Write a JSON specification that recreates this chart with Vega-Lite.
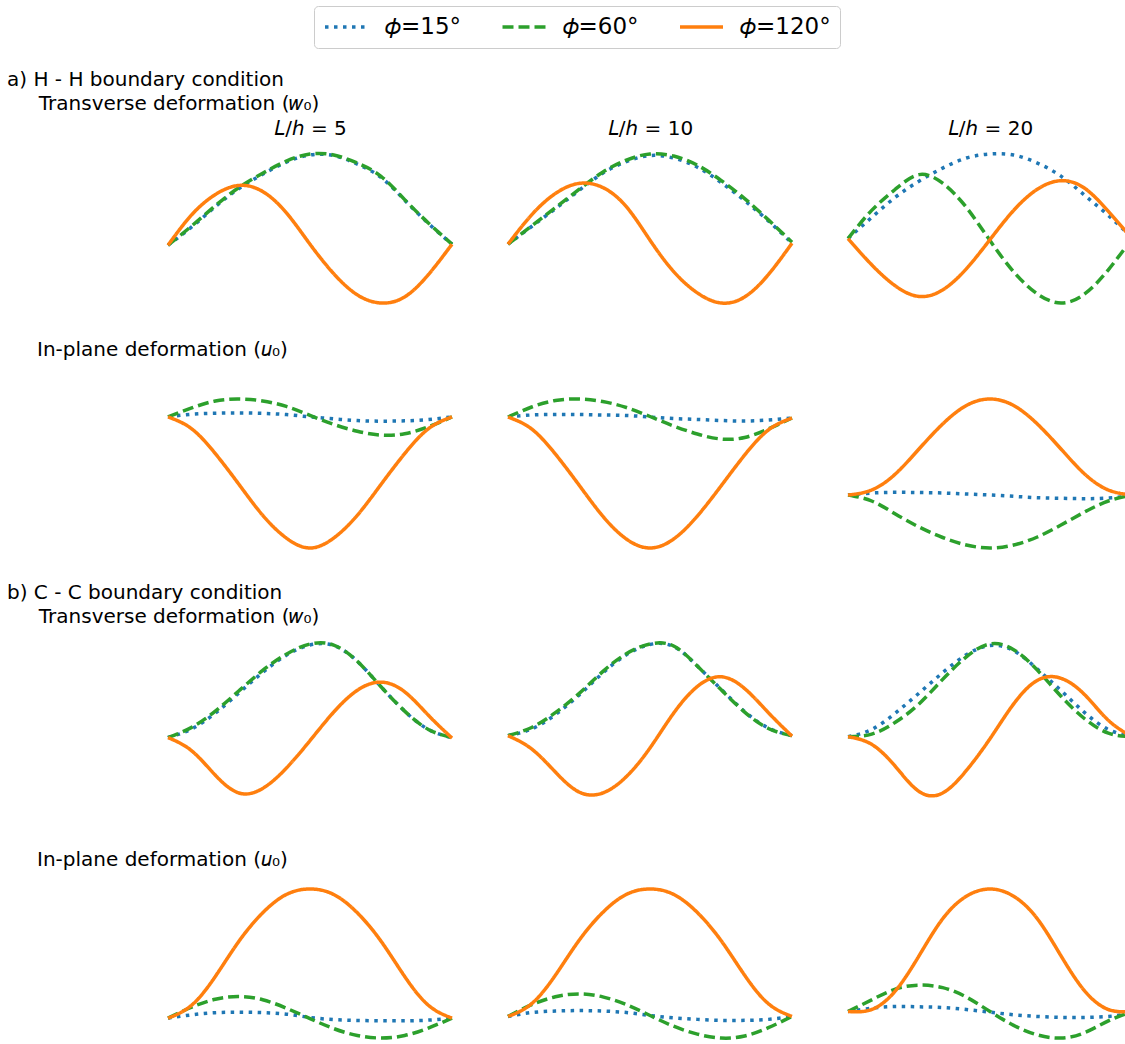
{
  "$schema": "https://vega.github.io/schema/vega-lite/v6.json",
  "padding": {"left": 7, "top": 5, "right": 0, "bottom": 0},
  "background": "white",
  "config": {
    "font": "DejaVu Sans",
    "view": {"stroke": null},
    "line": {"strokeWidth": 3.5, "interpolate": "natural", "strokeCap": "butt"},
    "title": {"fontSize": 20, "fontWeight": "normal", "color": "black", "anchor": "start", "frame": "group", "font": "DejaVu Sans"},
    "axis": {"labels": false, "ticks": false, "domain": false, "grid": false, "titleFontSize": 20, "titleFontWeight": "normal", "titleColor": "black", "titlePadding": 16, "titleFont": "DejaVu Sans"},
    "legend": {"orient": "none", "legendX": 146, "legendY": -148, "direction": "horizontal", "padding": 9, "clipHeight": 24, "strokeColor": "#cccccc", "fillColor": "white", "cornerRadius": 4, "labelFont": "DejaVu Sans", "labelFontSize": 23, "labelColor": "black", "labelOffset": 15, "columnPadding": 38.5, "symbolType": "stroke", "symbolSize": 1849, "symbolStrokeWidth": 3.5}
  },
  "datasets": {
    "hh_w_5": [
      {"phi":15,"x":0,"v":0},{"phi":15,"x":0.0833,"v":18},{"phi":15,"x":0.1667,"v":38},{"phi":15,"x":0.25,"v":56},{"phi":15,"x":0.3333,"v":70},{"phi":15,"x":0.4167,"v":82},{"phi":15,"x":0.5,"v":89},{"phi":15,"x":0.5833,"v":88.5},{"phi":15,"x":0.6667,"v":80},{"phi":15,"x":0.75,"v":67},{"phi":15,"x":0.8333,"v":44.5},{"phi":15,"x":0.9167,"v":21.5},{"phi":15,"x":1,"v":1},
      {"phi":60,"x":0,"v":0},{"phi":60,"x":0.0833,"v":19},{"phi":60,"x":0.1667,"v":39},{"phi":60,"x":0.25,"v":57},{"phi":60,"x":0.3333,"v":71},{"phi":60,"x":0.4167,"v":83},{"phi":60,"x":0.5,"v":90},{"phi":60,"x":0.5833,"v":89},{"phi":60,"x":0.6667,"v":81},{"phi":60,"x":0.75,"v":68},{"phi":60,"x":0.8333,"v":45},{"phi":60,"x":0.9167,"v":22},{"phi":60,"x":1,"v":1},
      {"phi":120,"x":0,"v":0},{"phi":120,"x":0.0833,"v":30},{"phi":120,"x":0.1667,"v":50},{"phi":120,"x":0.25,"v":59},{"phi":120,"x":0.3333,"v":53},{"phi":120,"x":0.4167,"v":32},{"phi":120,"x":0.5,"v":1},{"phi":120,"x":0.5833,"v":-28},{"phi":120,"x":0.6667,"v":-49},{"phi":120,"x":0.75,"v":-57},{"phi":120,"x":0.8333,"v":-51},{"phi":120,"x":0.9167,"v":-29},{"phi":120,"x":1,"v":1}
    ],
    "hh_w_10": [
      {"phi":15,"x":0,"v":0},{"phi":15,"x":0.0833,"v":17.5},{"phi":15,"x":0.1667,"v":35},{"phi":15,"x":0.25,"v":53},{"phi":15,"x":0.3333,"v":70},{"phi":15,"x":0.4167,"v":81.5},{"phi":15,"x":0.5,"v":87.5},{"phi":15,"x":0.5833,"v":85},{"phi":15,"x":0.6667,"v":76},{"phi":15,"x":0.75,"v":61},{"phi":15,"x":0.8333,"v":43},{"phi":15,"x":0.9167,"v":23},{"phi":15,"x":1,"v":1},
      {"phi":60,"x":0,"v":0},{"phi":60,"x":0.0833,"v":18},{"phi":60,"x":0.1667,"v":36},{"phi":60,"x":0.25,"v":54},{"phi":60,"x":0.3333,"v":71},{"phi":60,"x":0.4167,"v":83},{"phi":60,"x":0.5,"v":89},{"phi":60,"x":0.5833,"v":87},{"phi":60,"x":0.6667,"v":78},{"phi":60,"x":0.75,"v":63},{"phi":60,"x":0.8333,"v":45},{"phi":60,"x":0.9167,"v":24},{"phi":60,"x":1,"v":2},
      {"phi":120,"x":0,"v":0},{"phi":120,"x":0.0833,"v":29},{"phi":120,"x":0.1667,"v":50},{"phi":120,"x":0.25,"v":60},{"phi":120,"x":0.3333,"v":56},{"phi":120,"x":0.4167,"v":37},{"phi":120,"x":0.5,"v":4},{"phi":120,"x":0.5833,"v":-27},{"phi":120,"x":0.6667,"v":-48},{"phi":120,"x":0.75,"v":-58},{"phi":120,"x":0.8333,"v":-52},{"phi":120,"x":0.9167,"v":-30},{"phi":120,"x":1,"v":1}
    ],
    "hh_w_20": [
      {"phi":15,"x":0,"v":0},{"phi":15,"x":0.0833,"v":21},{"phi":15,"x":0.1667,"v":41},{"phi":15,"x":0.25,"v":57},{"phi":15,"x":0.3333,"v":70},{"phi":15,"x":0.4167,"v":80},{"phi":15,"x":0.5,"v":84},{"phi":15,"x":0.5833,"v":83},{"phi":15,"x":0.6667,"v":75},{"phi":15,"x":0.75,"v":62},{"phi":15,"x":0.8333,"v":43},{"phi":15,"x":0.9167,"v":23},{"phi":15,"x":1,"v":1},
      {"phi":60,"x":0,"v":0},{"phi":60,"x":0.0833,"v":28},{"phi":60,"x":0.1667,"v":49},{"phi":60,"x":0.25,"v":63.5},{"phi":60,"x":0.3333,"v":55},{"phi":60,"x":0.4167,"v":31},{"phi":60,"x":0.5,"v":-2},{"phi":60,"x":0.5833,"v":-33},{"phi":60,"x":0.6667,"v":-55},{"phi":60,"x":0.75,"v":-64},{"phi":60,"x":0.8333,"v":-55},{"phi":60,"x":0.9167,"v":-31},{"phi":60,"x":1,"v":0},
      {"phi":120,"x":0,"v":0},{"phi":120,"x":0.0833,"v":-26},{"phi":120,"x":0.1667,"v":-47},{"phi":120,"x":0.25,"v":-57.5},{"phi":120,"x":0.3333,"v":-51},{"phi":120,"x":0.4167,"v":-30},{"phi":120,"x":0.5,"v":-1},{"phi":120,"x":0.5833,"v":28},{"phi":120,"x":0.6667,"v":49},{"phi":120,"x":0.75,"v":57.5},{"phi":120,"x":0.8333,"v":50},{"phi":120,"x":0.9167,"v":27},{"phi":120,"x":1,"v":0}
    ],
    "hh_u_5": [
      {"phi":15,"x":0,"v":0},{"phi":15,"x":0.0833,"v":2.7},{"phi":15,"x":0.1667,"v":3.7},{"phi":15,"x":0.25,"v":4},{"phi":15,"x":0.3333,"v":3.5},{"phi":15,"x":0.4167,"v":2.3},{"phi":15,"x":0.5,"v":0},{"phi":15,"x":0.5833,"v":-2},{"phi":15,"x":0.6667,"v":-3.7},{"phi":15,"x":0.75,"v":-4.3},{"phi":15,"x":0.8333,"v":-4},{"phi":15,"x":0.9167,"v":-2.7},{"phi":15,"x":1,"v":0},
      {"phi":60,"x":0,"v":0},{"phi":60,"x":0.0833,"v":9},{"phi":60,"x":0.1667,"v":16},{"phi":60,"x":0.25,"v":18},{"phi":60,"x":0.3333,"v":16},{"phi":60,"x":0.4167,"v":10.5},{"phi":60,"x":0.5,"v":1.5},{"phi":60,"x":0.5833,"v":-7.5},{"phi":60,"x":0.6667,"v":-14.5},{"phi":60,"x":0.75,"v":-18.3},{"phi":60,"x":0.8333,"v":-17},{"phi":60,"x":0.9167,"v":-10},{"phi":60,"x":1,"v":0},
      {"phi":120,"x":0,"v":0},{"phi":120,"x":0.0833,"v":-12},{"phi":120,"x":0.1667,"v":-37},{"phi":120,"x":0.25,"v":-68},{"phi":120,"x":0.3333,"v":-99},{"phi":120,"x":0.4167,"v":-122},{"phi":120,"x":0.5,"v":-132},{"phi":120,"x":0.5833,"v":-122},{"phi":120,"x":0.6667,"v":-99},{"phi":120,"x":0.75,"v":-68},{"phi":120,"x":0.8333,"v":-37},{"phi":120,"x":0.9167,"v":-12},{"phi":120,"x":1,"v":0}
    ],
    "hh_u_10": [
      {"phi":15,"x":0,"v":0},{"phi":15,"x":0.0833,"v":2},{"phi":15,"x":0.1667,"v":2.5},{"phi":15,"x":0.25,"v":2.5},{"phi":15,"x":0.3333,"v":2},{"phi":15,"x":0.4167,"v":1.5},{"phi":15,"x":0.5,"v":0},{"phi":15,"x":0.5833,"v":-1.5},{"phi":15,"x":0.6667,"v":-2.5},{"phi":15,"x":0.75,"v":-3.5},{"phi":15,"x":0.8333,"v":-4},{"phi":15,"x":0.9167,"v":-3},{"phi":15,"x":1,"v":-1},
      {"phi":60,"x":0,"v":0},{"phi":60,"x":0.0833,"v":10},{"phi":60,"x":0.1667,"v":16.5},{"phi":60,"x":0.25,"v":18},{"phi":60,"x":0.3333,"v":15.5},{"phi":60,"x":0.4167,"v":9.5},{"phi":60,"x":0.5,"v":0.5},{"phi":60,"x":0.5833,"v":-9},{"phi":60,"x":0.6667,"v":-17},{"phi":60,"x":0.75,"v":-22},{"phi":60,"x":0.8333,"v":-20.5},{"phi":60,"x":0.9167,"v":-12},{"phi":60,"x":1,"v":-1},
      {"phi":120,"x":0,"v":0},{"phi":120,"x":0.0833,"v":-12},{"phi":120,"x":0.1667,"v":-37},{"phi":120,"x":0.25,"v":-68},{"phi":120,"x":0.3333,"v":-99},{"phi":120,"x":0.4167,"v":-122},{"phi":120,"x":0.5,"v":-131},{"phi":120,"x":0.5833,"v":-122},{"phi":120,"x":0.6667,"v":-99},{"phi":120,"x":0.75,"v":-69},{"phi":120,"x":0.8333,"v":-38},{"phi":120,"x":0.9167,"v":-13},{"phi":120,"x":1,"v":-1}
    ],
    "hh_u_20": [
      {"phi":15,"x":0,"v":0},{"phi":15,"x":0.0833,"v":2},{"phi":15,"x":0.1667,"v":2.7},{"phi":15,"x":0.25,"v":2.5},{"phi":15,"x":0.3333,"v":2},{"phi":15,"x":0.4167,"v":1},{"phi":15,"x":0.5,"v":0},{"phi":15,"x":0.5833,"v":-1.3},{"phi":15,"x":0.6667,"v":-2.7},{"phi":15,"x":0.75,"v":-3.3},{"phi":15,"x":0.8333,"v":-3.7},{"phi":15,"x":0.9167,"v":-3},{"phi":15,"x":1,"v":-1},
      {"phi":60,"x":0,"v":0},{"phi":60,"x":0.0833,"v":-6},{"phi":60,"x":0.1667,"v":-19},{"phi":60,"x":0.25,"v":-32},{"phi":60,"x":0.3333,"v":-42.5},{"phi":60,"x":0.4167,"v":-50},{"phi":60,"x":0.5,"v":-53},{"phi":60,"x":0.5833,"v":-50},{"phi":60,"x":0.6667,"v":-42},{"phi":60,"x":0.75,"v":-30},{"phi":60,"x":0.8333,"v":-17},{"phi":60,"x":0.9167,"v":-6},{"phi":60,"x":1,"v":0},
      {"phi":120,"x":0,"v":0},{"phi":120,"x":0.0833,"v":5},{"phi":120,"x":0.1667,"v":21},{"phi":120,"x":0.25,"v":46},{"phi":120,"x":0.3333,"v":71},{"phi":120,"x":0.4167,"v":89.5},{"phi":120,"x":0.5,"v":96},{"phi":120,"x":0.5833,"v":89.5},{"phi":120,"x":0.6667,"v":71},{"phi":120,"x":0.75,"v":46},{"phi":120,"x":0.8333,"v":21},{"phi":120,"x":0.9167,"v":5},{"phi":120,"x":1,"v":0}
    ],
    "cc_w_5": [
      {"phi":15,"x":0,"v":0},{"phi":15,"x":0.0833,"v":8.5},{"phi":15,"x":0.1667,"v":24},{"phi":15,"x":0.25,"v":44},{"phi":15,"x":0.3333,"v":64},{"phi":15,"x":0.4167,"v":81},{"phi":15,"x":0.5,"v":91},{"phi":15,"x":0.5833,"v":90.5},{"phi":15,"x":0.6667,"v":75},{"phi":15,"x":0.75,"v":50},{"phi":15,"x":0.8333,"v":26},{"phi":15,"x":0.9167,"v":8},{"phi":15,"x":1,"v":0},
      {"phi":60,"x":0,"v":0},{"phi":60,"x":0.0833,"v":10},{"phi":60,"x":0.1667,"v":26},{"phi":60,"x":0.25,"v":46},{"phi":60,"x":0.3333,"v":66},{"phi":60,"x":0.4167,"v":82},{"phi":60,"x":0.5,"v":92},{"phi":60,"x":0.5833,"v":91},{"phi":60,"x":0.6667,"v":75},{"phi":60,"x":0.75,"v":50},{"phi":60,"x":0.8333,"v":26},{"phi":60,"x":0.9167,"v":8},{"phi":60,"x":1,"v":0},
      {"phi":120,"x":0,"v":0},{"phi":120,"x":0.0833,"v":-13},{"phi":120,"x":0.1667,"v":-37},{"phi":120,"x":0.25,"v":-54.5},{"phi":120,"x":0.3333,"v":-50},{"phi":120,"x":0.4167,"v":-30},{"phi":120,"x":0.5,"v":-3},{"phi":120,"x":0.5833,"v":25},{"phi":120,"x":0.6667,"v":46.5},{"phi":120,"x":0.75,"v":54.5},{"phi":120,"x":0.8333,"v":45},{"phi":120,"x":0.9167,"v":22},{"phi":120,"x":1,"v":-0.5}
    ],
    "cc_w_10": [
      {"phi":15,"x":0,"v":0},{"phi":15,"x":0.0833,"v":6.5},{"phi":15,"x":0.1667,"v":20.5},{"phi":15,"x":0.25,"v":39.5},{"phi":15,"x":0.3333,"v":61},{"phi":15,"x":0.4167,"v":79},{"phi":15,"x":0.5,"v":89},{"phi":15,"x":0.5833,"v":87},{"phi":15,"x":0.6667,"v":68},{"phi":15,"x":0.75,"v":45.5},{"phi":15,"x":0.8333,"v":23.5},{"phi":15,"x":0.9167,"v":7.5},{"phi":15,"x":1,"v":0},
      {"phi":60,"x":0,"v":0},{"phi":60,"x":0.0833,"v":8},{"phi":60,"x":0.1667,"v":22.5},{"phi":60,"x":0.25,"v":41},{"phi":60,"x":0.3333,"v":62.5},{"phi":60,"x":0.4167,"v":80},{"phi":60,"x":0.5,"v":89.5},{"phi":60,"x":0.5833,"v":87.5},{"phi":60,"x":0.6667,"v":68},{"phi":60,"x":0.75,"v":45},{"phi":60,"x":0.8333,"v":23},{"phi":60,"x":0.9167,"v":7},{"phi":60,"x":1,"v":0},
      {"phi":120,"x":0,"v":0},{"phi":120,"x":0.0833,"v":-13},{"phi":120,"x":0.1667,"v":-35.5},{"phi":120,"x":0.25,"v":-55},{"phi":120,"x":0.3333,"v":-56},{"phi":120,"x":0.4167,"v":-40},{"phi":120,"x":0.5,"v":-12},{"phi":120,"x":0.5833,"v":22},{"phi":120,"x":0.6667,"v":48},{"phi":120,"x":0.75,"v":57.5},{"phi":120,"x":0.8333,"v":46},{"phi":120,"x":0.9167,"v":22.5},{"phi":120,"x":1,"v":-0.5}
    ],
    "cc_w_20": [
      {"phi":15,"x":0,"v":0},{"phi":15,"x":0.0833,"v":7},{"phi":15,"x":0.1667,"v":23},{"phi":15,"x":0.25,"v":42.5},{"phi":15,"x":0.3333,"v":62.5},{"phi":15,"x":0.4167,"v":80},{"phi":15,"x":0.5,"v":89},{"phi":15,"x":0.5833,"v":84},{"phi":15,"x":0.6667,"v":66},{"phi":15,"x":0.75,"v":45},{"phi":15,"x":0.8333,"v":23.5},{"phi":15,"x":0.9167,"v":7},{"phi":15,"x":1,"v":0},
      {"phi":60,"x":0,"v":0},{"phi":60,"x":0.0833,"v":2.5},{"phi":60,"x":0.1667,"v":14},{"phi":60,"x":0.25,"v":32},{"phi":60,"x":0.3333,"v":56},{"phi":60,"x":0.4167,"v":78},{"phi":60,"x":0.5,"v":90.5},{"phi":60,"x":0.5833,"v":85},{"phi":60,"x":0.6667,"v":65},{"phi":60,"x":0.75,"v":39.5},{"phi":60,"x":0.8333,"v":17.5},{"phi":60,"x":0.9167,"v":3.5},{"phi":60,"x":1,"v":0},
      {"phi":120,"x":0,"v":0},{"phi":120,"x":0.0833,"v":-7.5},{"phi":120,"x":0.1667,"v":-29},{"phi":120,"x":0.25,"v":-53.5},{"phi":120,"x":0.3333,"v":-55},{"phi":120,"x":0.4167,"v":-33},{"phi":120,"x":0.5,"v":-2},{"phi":120,"x":0.5833,"v":32},{"phi":120,"x":0.6667,"v":55},{"phi":120,"x":0.75,"v":57},{"phi":120,"x":0.8333,"v":41},{"phi":120,"x":0.9167,"v":16},{"phi":120,"x":1,"v":0}
    ],
    "cc_u_5": [
      {"phi":15,"x":0,"v":0},{"phi":15,"x":0.0833,"v":3.3},{"phi":15,"x":0.1667,"v":5.5},{"phi":15,"x":0.25,"v":6},{"phi":15,"x":0.3333,"v":5.5},{"phi":15,"x":0.4167,"v":4},{"phi":15,"x":0.5,"v":0.7},{"phi":15,"x":0.5833,"v":-1.5},{"phi":15,"x":0.6667,"v":-2.3},{"phi":15,"x":0.75,"v":-2.7},{"phi":15,"x":0.8333,"v":-2.7},{"phi":15,"x":0.9167,"v":-2},{"phi":15,"x":1,"v":0},
      {"phi":60,"x":0,"v":0},{"phi":60,"x":0.0833,"v":11},{"phi":60,"x":0.1667,"v":19},{"phi":60,"x":0.25,"v":21.7},{"phi":60,"x":0.3333,"v":18.5},{"phi":60,"x":0.4167,"v":10},{"phi":60,"x":0.5,"v":-0.5},{"phi":60,"x":0.5833,"v":-10.5},{"phi":60,"x":0.6667,"v":-17.5},{"phi":60,"x":0.75,"v":-20},{"phi":60,"x":0.8333,"v":-17.5},{"phi":60,"x":0.9167,"v":-10},{"phi":60,"x":1,"v":0},
      {"phi":120,"x":0,"v":0},{"phi":120,"x":0.0833,"v":13},{"phi":120,"x":0.1667,"v":42},{"phi":120,"x":0.25,"v":77.5},{"phi":120,"x":0.3333,"v":106},{"phi":120,"x":0.4167,"v":124.5},{"phi":120,"x":0.5,"v":130},{"phi":120,"x":0.5833,"v":124.5},{"phi":120,"x":0.6667,"v":106},{"phi":120,"x":0.75,"v":77.5},{"phi":120,"x":0.8333,"v":42},{"phi":120,"x":0.9167,"v":13},{"phi":120,"x":1,"v":0}
    ],
    "cc_u_10": [
      {"phi":15,"x":0,"v":0},{"phi":15,"x":0.0833,"v":4},{"phi":15,"x":0.1667,"v":5.5},{"phi":15,"x":0.25,"v":6},{"phi":15,"x":0.3333,"v":5.5},{"phi":15,"x":0.4167,"v":4},{"phi":15,"x":0.5,"v":1},{"phi":15,"x":0.5833,"v":-1.5},{"phi":15,"x":0.6667,"v":-3},{"phi":15,"x":0.75,"v":-4},{"phi":15,"x":0.8333,"v":-4},{"phi":15,"x":0.9167,"v":-3},{"phi":15,"x":1,"v":0},
      {"phi":60,"x":0,"v":0},{"phi":60,"x":0.0833,"v":12},{"phi":60,"x":0.1667,"v":20},{"phi":60,"x":0.25,"v":23},{"phi":60,"x":0.3333,"v":20},{"phi":60,"x":0.4167,"v":12},{"phi":60,"x":0.5,"v":1},{"phi":60,"x":0.5833,"v":-10},{"phi":60,"x":0.6667,"v":-18},{"phi":60,"x":0.75,"v":-22},{"phi":60,"x":0.8333,"v":-20},{"phi":60,"x":0.9167,"v":-11.5},{"phi":60,"x":1,"v":0},
      {"phi":120,"x":0,"v":0},{"phi":120,"x":0.0833,"v":13},{"phi":120,"x":0.1667,"v":42},{"phi":120,"x":0.25,"v":77.5},{"phi":120,"x":0.3333,"v":106},{"phi":120,"x":0.4167,"v":124.5},{"phi":120,"x":0.5,"v":130},{"phi":120,"x":0.5833,"v":124.5},{"phi":120,"x":0.6667,"v":106},{"phi":120,"x":0.75,"v":77.5},{"phi":120,"x":0.8333,"v":42},{"phi":120,"x":0.9167,"v":13},{"phi":120,"x":1,"v":0}
    ],
    "cc_u_20": [
      {"phi":15,"x":0,"v":0},{"phi":15,"x":0.0833,"v":3.3},{"phi":15,"x":0.1667,"v":5},{"phi":15,"x":0.25,"v":4.7},{"phi":15,"x":0.3333,"v":4},{"phi":15,"x":0.4167,"v":2},{"phi":15,"x":0.5,"v":-0.7},{"phi":15,"x":0.5833,"v":-3.3},{"phi":15,"x":0.6667,"v":-5},{"phi":15,"x":0.75,"v":-6},{"phi":15,"x":0.8333,"v":-6},{"phi":15,"x":0.9167,"v":-5},{"phi":15,"x":1,"v":-2},
      {"phi":60,"x":0,"v":0},{"phi":60,"x":0.0833,"v":11.7},{"phi":60,"x":0.1667,"v":22.5},{"phi":60,"x":0.25,"v":26.5},{"phi":60,"x":0.3333,"v":24},{"phi":60,"x":0.4167,"v":14.5},{"phi":60,"x":0.5,"v":0},{"phi":60,"x":0.5833,"v":-14},{"phi":60,"x":0.6667,"v":-23.5},{"phi":60,"x":0.75,"v":-26.7},{"phi":60,"x":0.8333,"v":-21.3},{"phi":60,"x":0.9167,"v":-9.5},{"phi":60,"x":1,"v":0},
      {"phi":120,"x":0,"v":0},{"phi":120,"x":0.0833,"v":2},{"phi":120,"x":0.1667,"v":20.7},{"phi":120,"x":0.25,"v":56},{"phi":120,"x":0.3333,"v":93.3},{"phi":120,"x":0.4167,"v":116},{"phi":120,"x":0.5,"v":123.3},{"phi":120,"x":0.5833,"v":116},{"phi":120,"x":0.6667,"v":93.3},{"phi":120,"x":0.75,"v":56},{"phi":120,"x":0.8333,"v":20.7},{"phi":120,"x":0.9167,"v":2},{"phi":120,"x":1,"v":0}
    ]
  },
  "columns": 3,
  "spacing": {"row": 96, "column": 56},
  "bounds": "flush",
  "resolve": {"scale": {"x": "independent", "y": "independent"}},
  "concat": [
    {
      "width": 284, "height": 149,
      "data": {"name": "hh_w_5"},
      "title": {"text": ["a) H - H boundary condition", "\u200b\u00a0\u00a0\u00a0\u00a0\u00a0Transverse deformation (𝑤₀)"], "dx": -161, "offset": 4, "lineHeight": 24},
      "mark": "line",
      "encoding": {
        "x": {"field": "x", "type": "quantitative", "scale": {"domain": [0, 1], "nice": false}, "axis": {"orient": "top", "title": "𝐿/ℎ = 5"}},
        "y": {"field": "v", "type": "quantitative", "scale": {"zero": false, "nice": false}, "axis": null},
        "color": {"field": "phi", "type": "nominal", "scale": {"domain": [15, 60, 120], "range": ["#1f77b4", "#2ca02c", "#ff7f0e"]}, "legend": {"title": null, "labelExpr": "'𝜙=' + datum.label + '°'"}},
        "strokeDash": {"field": "phi", "type": "nominal", "scale": {"domain": [15, 60, 120], "range": [[3.5, 5.5], [11, 5], [1, 0]]}, "legend": {"title": null, "labelExpr": "'𝜙=' + datum.label + '°'"}}
      }
    },
    {
      "width": 284, "height": 149,
      "data": {"name": "hh_w_10"},
      "mark": "line",
      "encoding": {
        "x": {"field": "x", "type": "quantitative", "scale": {"domain": [0, 1], "nice": false}, "axis": {"orient": "top", "title": "𝐿/ℎ = 10"}},
        "y": {"field": "v", "type": "quantitative", "scale": {"zero": false, "nice": false}, "axis": null},
        "color": {"field": "phi", "type": "nominal", "scale": {"domain": [15, 60, 120], "range": ["#1f77b4", "#2ca02c", "#ff7f0e"]}, "legend": {"title": null, "labelExpr": "'𝜙=' + datum.label + '°'"}},
        "strokeDash": {"field": "phi", "type": "nominal", "scale": {"domain": [15, 60, 120], "range": [[3.5, 5.5], [11, 5], [1, 0]]}, "legend": {"title": null, "labelExpr": "'𝜙=' + datum.label + '°'"}}
      }
    },
    {
      "width": 284, "height": 149,
      "data": {"name": "hh_w_20"},
      "mark": "line",
      "encoding": {
        "x": {"field": "x", "type": "quantitative", "scale": {"domain": [0, 1], "nice": false}, "axis": {"orient": "top", "title": "𝐿/ℎ = 20"}},
        "y": {"field": "v", "type": "quantitative", "scale": {"zero": false, "nice": false}, "axis": null},
        "color": {"field": "phi", "type": "nominal", "scale": {"domain": [15, 60, 120], "range": ["#1f77b4", "#2ca02c", "#ff7f0e"]}, "legend": {"title": null, "labelExpr": "'𝜙=' + datum.label + '°'"}},
        "strokeDash": {"field": "phi", "type": "nominal", "scale": {"domain": [15, 60, 120], "range": [[3.5, 5.5], [11, 5], [1, 0]]}, "legend": {"title": null, "labelExpr": "'𝜙=' + datum.label + '°'"}}
      }
    },
    {
      "width": 284, "height": 149,
      "data": {"name": "hh_u_5"},
      "title": {"text": "In-plane deformation (𝑢₀)", "dx": -131, "offset": 32},
      "mark": "line",
      "encoding": {
        "x": {"field": "x", "type": "quantitative", "scale": {"domain": [0, 1], "nice": false}, "axis": null},
        "y": {"field": "v", "type": "quantitative", "scale": {"zero": false, "nice": false}, "axis": null},
        "color": {"field": "phi", "type": "nominal", "scale": {"domain": [15, 60, 120], "range": ["#1f77b4", "#2ca02c", "#ff7f0e"]}, "legend": {"title": null, "labelExpr": "'𝜙=' + datum.label + '°'"}},
        "strokeDash": {"field": "phi", "type": "nominal", "scale": {"domain": [15, 60, 120], "range": [[3.5, 5.5], [11, 5], [1, 0]]}, "legend": {"title": null, "labelExpr": "'𝜙=' + datum.label + '°'"}}
      }
    },
    {
      "width": 284, "height": 149,
      "data": {"name": "hh_u_10"},
      "mark": "line",
      "encoding": {
        "x": {"field": "x", "type": "quantitative", "scale": {"domain": [0, 1], "nice": false}, "axis": null},
        "y": {"field": "v", "type": "quantitative", "scale": {"zero": false, "nice": false}, "axis": null},
        "color": {"field": "phi", "type": "nominal", "scale": {"domain": [15, 60, 120], "range": ["#1f77b4", "#2ca02c", "#ff7f0e"]}, "legend": {"title": null, "labelExpr": "'𝜙=' + datum.label + '°'"}},
        "strokeDash": {"field": "phi", "type": "nominal", "scale": {"domain": [15, 60, 120], "range": [[3.5, 5.5], [11, 5], [1, 0]]}, "legend": {"title": null, "labelExpr": "'𝜙=' + datum.label + '°'"}}
      }
    },
    {
      "width": 284, "height": 149,
      "data": {"name": "hh_u_20"},
      "mark": "line",
      "encoding": {
        "x": {"field": "x", "type": "quantitative", "scale": {"domain": [0, 1], "nice": false}, "axis": null},
        "y": {"field": "v", "type": "quantitative", "scale": {"zero": false, "nice": false}, "axis": null},
        "color": {"field": "phi", "type": "nominal", "scale": {"domain": [15, 60, 120], "range": ["#1f77b4", "#2ca02c", "#ff7f0e"]}, "legend": {"title": null, "labelExpr": "'𝜙=' + datum.label + '°'"}},
        "strokeDash": {"field": "phi", "type": "nominal", "scale": {"domain": [15, 60, 120], "range": [[3.5, 5.5], [11, 5], [1, 0]]}, "legend": {"title": null, "labelExpr": "'𝜙=' + datum.label + '°'"}}
      }
    },
    {
      "width": 284, "height": 149,
      "data": {"name": "cc_w_5"},
      "title": {"text": ["b) C - C boundary condition", "\u200b\u00a0\u00a0\u00a0\u00a0\u00a0Transverse deformation (𝑤₀)"], "dx": -161, "offset": 9, "lineHeight": 24},
      "mark": "line",
      "encoding": {
        "x": {"field": "x", "type": "quantitative", "scale": {"domain": [0, 1], "nice": false}, "axis": null},
        "y": {"field": "v", "type": "quantitative", "scale": {"zero": false, "nice": false}, "axis": null},
        "color": {"field": "phi", "type": "nominal", "scale": {"domain": [15, 60, 120], "range": ["#1f77b4", "#2ca02c", "#ff7f0e"]}, "legend": {"title": null, "labelExpr": "'𝜙=' + datum.label + '°'"}},
        "strokeDash": {"field": "phi", "type": "nominal", "scale": {"domain": [15, 60, 120], "range": [[3.5, 5.5], [11, 5], [1, 0]]}, "legend": {"title": null, "labelExpr": "'𝜙=' + datum.label + '°'"}}
      }
    },
    {
      "width": 284, "height": 149,
      "data": {"name": "cc_w_10"},
      "mark": "line",
      "encoding": {
        "x": {"field": "x", "type": "quantitative", "scale": {"domain": [0, 1], "nice": false}, "axis": null},
        "y": {"field": "v", "type": "quantitative", "scale": {"zero": false, "nice": false}, "axis": null},
        "color": {"field": "phi", "type": "nominal", "scale": {"domain": [15, 60, 120], "range": ["#1f77b4", "#2ca02c", "#ff7f0e"]}, "legend": {"title": null, "labelExpr": "'𝜙=' + datum.label + '°'"}},
        "strokeDash": {"field": "phi", "type": "nominal", "scale": {"domain": [15, 60, 120], "range": [[3.5, 5.5], [11, 5], [1, 0]]}, "legend": {"title": null, "labelExpr": "'𝜙=' + datum.label + '°'"}}
      }
    },
    {
      "width": 284, "height": 149,
      "data": {"name": "cc_w_20"},
      "mark": "line",
      "encoding": {
        "x": {"field": "x", "type": "quantitative", "scale": {"domain": [0, 1], "nice": false}, "axis": null},
        "y": {"field": "v", "type": "quantitative", "scale": {"zero": false, "nice": false}, "axis": null},
        "color": {"field": "phi", "type": "nominal", "scale": {"domain": [15, 60, 120], "range": ["#1f77b4", "#2ca02c", "#ff7f0e"]}, "legend": {"title": null, "labelExpr": "'𝜙=' + datum.label + '°'"}},
        "strokeDash": {"field": "phi", "type": "nominal", "scale": {"domain": [15, 60, 120], "range": [[3.5, 5.5], [11, 5], [1, 0]]}, "legend": {"title": null, "labelExpr": "'𝜙=' + datum.label + '°'"}}
      }
    },
    {
      "width": 284, "height": 149,
      "data": {"name": "cc_u_5"},
      "title": {"text": "In-plane deformation (𝑢₀)", "dx": -131, "offset": 12},
      "mark": "line",
      "encoding": {
        "x": {"field": "x", "type": "quantitative", "scale": {"domain": [0, 1], "nice": false}, "axis": null},
        "y": {"field": "v", "type": "quantitative", "scale": {"zero": false, "nice": false}, "axis": null},
        "color": {"field": "phi", "type": "nominal", "scale": {"domain": [15, 60, 120], "range": ["#1f77b4", "#2ca02c", "#ff7f0e"]}, "legend": {"title": null, "labelExpr": "'𝜙=' + datum.label + '°'"}},
        "strokeDash": {"field": "phi", "type": "nominal", "scale": {"domain": [15, 60, 120], "range": [[3.5, 5.5], [11, 5], [1, 0]]}, "legend": {"title": null, "labelExpr": "'𝜙=' + datum.label + '°'"}}
      }
    },
    {
      "width": 284, "height": 149,
      "data": {"name": "cc_u_10"},
      "mark": "line",
      "encoding": {
        "x": {"field": "x", "type": "quantitative", "scale": {"domain": [0, 1], "nice": false}, "axis": null},
        "y": {"field": "v", "type": "quantitative", "scale": {"zero": false, "nice": false}, "axis": null},
        "color": {"field": "phi", "type": "nominal", "scale": {"domain": [15, 60, 120], "range": ["#1f77b4", "#2ca02c", "#ff7f0e"]}, "legend": {"title": null, "labelExpr": "'𝜙=' + datum.label + '°'"}},
        "strokeDash": {"field": "phi", "type": "nominal", "scale": {"domain": [15, 60, 120], "range": [[3.5, 5.5], [11, 5], [1, 0]]}, "legend": {"title": null, "labelExpr": "'𝜙=' + datum.label + '°'"}}
      }
    },
    {
      "width": 284, "height": 149,
      "data": {"name": "cc_u_20"},
      "mark": "line",
      "encoding": {
        "x": {"field": "x", "type": "quantitative", "scale": {"domain": [0, 1], "nice": false}, "axis": null},
        "y": {"field": "v", "type": "quantitative", "scale": {"zero": false, "nice": false}, "axis": null},
        "color": {"field": "phi", "type": "nominal", "scale": {"domain": [15, 60, 120], "range": ["#1f77b4", "#2ca02c", "#ff7f0e"]}, "legend": {"title": null, "labelExpr": "'𝜙=' + datum.label + '°'"}},
        "strokeDash": {"field": "phi", "type": "nominal", "scale": {"domain": [15, 60, 120], "range": [[3.5, 5.5], [11, 5], [1, 0]]}, "legend": {"title": null, "labelExpr": "'𝜙=' + datum.label + '°'"}}
      }
    }
  ]
}
